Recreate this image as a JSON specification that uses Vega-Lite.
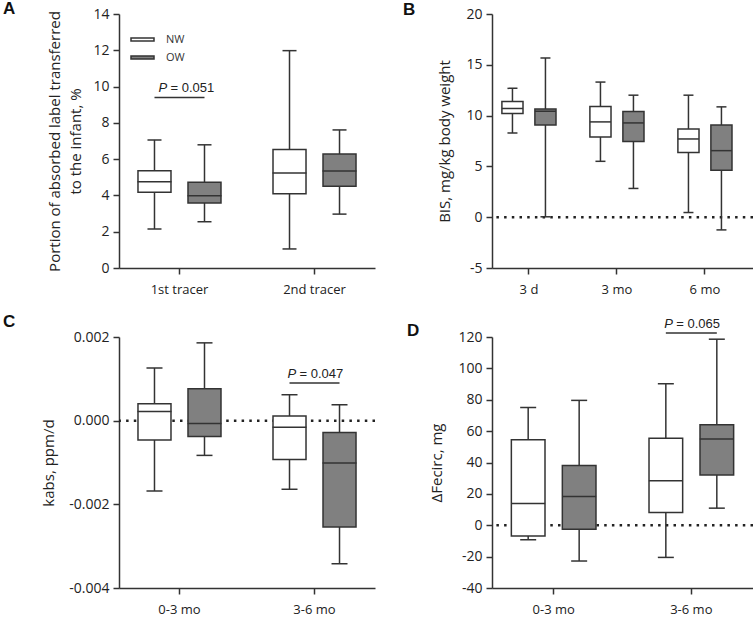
{
  "$schema": "https://vega.github.io/schema/vega-lite/v6.json",
  "background": "white",
  "padding": {"left": 3, "top": 0, "right": 0, "bottom": 0},
  "columns": 2,
  "bounds": "flush",
  "spacing": {"row": 69, "column": 117},
  "resolve": {
    "scale": {"x": "independent", "y": "independent", "xOffset": "independent", "fill": "independent"},
    "legend": {"fill": "independent"}
  },
  "concat": [
    {
      "width": 256, "height": 254,
      "title": {"text": "A", "dx": -116, "dy": 15},
      "data": {"values": [
        {"cat": "1st tracer", "grp": "NW", "lo": 2.15, "q1": 4.18, "med": 4.75, "q3": 5.36, "hi": 7.06},
        {"cat": "1st tracer", "grp": "OW", "lo": 2.55, "q1": 3.58, "med": 3.98, "q3": 4.72, "hi": 6.79},
        {"cat": "2nd tracer", "grp": "NW", "lo": 1.05, "q1": 4.09, "med": 5.23, "q3": 6.53, "hi": 11.98},
        {"cat": "2nd tracer", "grp": "OW", "lo": 2.97, "q1": 4.51, "med": 5.34, "q3": 6.28, "hi": 7.61}
      ]},
      "encoding": {
        "x": {"field": "cat", "type": "nominal", "sort": null, "title": null,
              "scale": {"type": "band", "domain": ["1st tracer", "2nd tracer"], "paddingInner": 0.2, "paddingOuter": 0.048},
              "axis": {"labelAngle": 0}},
        "xOffset": {"field": "grp", "type": "nominal", "scale": {"domain": ["NW", "OW"], "paddingInner": 0.34, "paddingOuter": 0.25}}
      },
      "layer": [
        {"mark": {"type": "rule", "color": "#333", "strokeWidth": 1.5},
         "encoding": {"y": {"field": "lo", "type": "quantitative", "scale": {"domain": [0, 14], "nice": false}, "axis": {"values": [0, 2, 4, 6, 8, 10, 12, 14], "titleLineHeight": 21}, "title": ["Portion of absorbed label transferred", "to the infant, %"]},
                      "y2": {"field": "hi"}}},
        {"mark": {"type": "bar", "stroke": "#333", "strokeWidth": 1.5},
         "encoding": {"y": {"field": "q1", "type": "quantitative", "scale": {"domain": [0, 14], "nice": false}, "axis": {"values": [0, 2, 4, 6, 8, 10, 12, 14], "titleLineHeight": 21}, "title": ["Portion of absorbed label transferred", "to the infant, %"]},
                      "y2": {"field": "q3"},
                      "fill": {"field": "grp", "type": "nominal", "scale": {"domain": ["NW", "OW"], "range": ["#ffffff", "#808080"]},
                               "legend": {"orient": "none", "legendX": 11, "legendY": 13, "title": null,
                                          "symbolType": "M-1,-0.13H1V0.13H-1Z", "symbolSize": 529,
                                          "symbolStrokeColor": "#333", "symbolStrokeWidth": 1.5,
                                          "labelFontSize": 11, "labelFont": "Open Sans", "labelColor": "#333", "rowPadding": -14, "labelOffset": 11}}}},
        {"mark": {"type": "tick", "size": 34, "thickness": 1.5, "color": "#333", "opacity": 1},
         "encoding": {"y": {"field": "med", "type": "quantitative", "scale": {"domain": [0, 14], "nice": false}, "axis": {"values": [0, 2, 4, 6, 8, 10, 12, 14], "titleLineHeight": 21}, "title": ["Portion of absorbed label transferred", "to the infant, %"]}}},
        {"mark": {"type": "tick", "size": 14, "thickness": 1.5, "color": "#333", "opacity": 1},
         "encoding": {"y": {"field": "lo", "type": "quantitative", "scale": {"domain": [0, 14], "nice": false}, "axis": {"values": [0, 2, 4, 6, 8, 10, 12, 14], "titleLineHeight": 21}, "title": ["Portion of absorbed label transferred", "to the infant, %"]}}},
        {"mark": {"type": "tick", "size": 14, "thickness": 1.5, "color": "#333", "opacity": 1},
         "encoding": {"y": {"field": "hi", "type": "quantitative", "scale": {"domain": [0, 14], "nice": false}, "axis": {"values": [0, 2, 4, 6, 8, 10, 12, 14], "titleLineHeight": 21}, "title": ["Portion of absorbed label transferred", "to the infant, %"]}}},
        {"data": {"values": [{"cat": "1st tracer", "grp": "NW", "v": 9.4}, {"cat": "1st tracer", "grp": "OW", "v": 9.4}]},
         "mark": {"type": "line", "color": "#333", "strokeWidth": 1.5},
         "encoding": {"y": {"field": "v", "type": "quantitative", "scale": {"domain": [0, 14], "nice": false}, "axis": {"values": [0, 2, 4, 6, 8, 10, 12, 14], "titleLineHeight": 21}, "title": ["Portion of absorbed label transferred", "to the infant, %"]}}},
        {"data": {"values": [{"cat": "1st tracer", "v": 9.4, "t": "P"}]},
         "mark": {"type": "text", "align": "left", "baseline": "alphabetic", "dx": -21, "dy": -5, "fontStyle": "italic", "font": "Liberation Sans", "fontSize": 13, "color": "#222"},
         "encoding": {"xOffset": null, "y": {"field": "v", "type": "quantitative", "scale": {"domain": [0, 14], "nice": false}, "axis": {"values": [0, 2, 4, 6, 8, 10, 12, 14], "titleLineHeight": 21}, "title": ["Portion of absorbed label transferred", "to the infant, %"]}, "text": {"field": "t"}}},
        {"data": {"values": [{"cat": "1st tracer", "v": 9.4, "t": "= 0.051"}]},
         "mark": {"type": "text", "align": "left", "baseline": "alphabetic", "dx": -9, "dy": -5, "font": "Liberation Sans", "fontSize": 13, "color": "#222"},
         "encoding": {"xOffset": null, "y": {"field": "v", "type": "quantitative", "scale": {"domain": [0, 14], "nice": false}, "axis": {"values": [0, 2, 4, 6, 8, 10, 12, 14], "titleLineHeight": 21}, "title": ["Portion of absorbed label transferred", "to the infant, %"]}, "text": {"field": "t"}}}
      ]
    },
    {
      "width": 261, "height": 254,
      "title": {"text": "B", "dx": -89, "dy": 16},
      "data": {"values": [
        {"cat": "3 d", "grp": "NW", "lo": 8.29, "q1": 10.2, "med": 10.7, "q3": 11.39, "hi": 12.68},
        {"cat": "3 d", "grp": "OW", "lo": 0.04, "q1": 9.08, "med": 10.43, "q3": 10.66, "hi": 15.67},
        {"cat": "3 mo", "grp": "NW", "lo": 5.5, "q1": 7.9, "med": 9.38, "q3": 10.9, "hi": 13.3},
        {"cat": "3 mo", "grp": "OW", "lo": 2.83, "q1": 7.44, "med": 9.28, "q3": 10.4, "hi": 12.01},
        {"cat": "6 mo", "grp": "NW", "lo": 0.46, "q1": 6.36, "med": 7.7, "q3": 8.69, "hi": 12.01},
        {"cat": "6 mo", "grp": "OW", "lo": -1.25, "q1": 4.61, "med": 6.55, "q3": 9.08, "hi": 10.86}
      ]},
      "encoding": {
        "x": {"field": "cat", "type": "nominal", "sort": null, "title": null,
              "scale": {"type": "band", "domain": ["3 d", "3 mo", "6 mo"], "paddingInner": 0.2, "paddingOuter": 0.083, "align": 0.12},
              "axis": {"labelAngle": 0}},
        "xOffset": {"field": "grp", "type": "nominal", "scale": {"domain": ["NW", "OW"], "paddingInner": 0.36, "paddingOuter": 0.247}}
      },
      "layer": [
        {"data": {"values": [{}]},
         "mark": {"type": "rule", "color": "#222", "strokeWidth": 2.5, "strokeDash": [2.5, 5.2]},
         "encoding": {"x": null, "xOffset": null, "y": {"datum": 0, "type": "quantitative", "scale": {"domain": [-5, 20], "nice": false}, "axis": {"values": [-5, 0, 5, 10, 15, 20], "labelExpr": "replace(datum.label, '\u2212', '-')", "titlePadding": 13}, "title": "BIS, mg/kg body weight"}}},
        {"mark": {"type": "rule", "color": "#333", "strokeWidth": 1.5},
         "encoding": {"y": {"field": "lo", "type": "quantitative", "scale": {"domain": [-5, 20], "nice": false}, "axis": {"values": [-5, 0, 5, 10, 15, 20], "labelExpr": "replace(datum.label, '\u2212', '-')", "titlePadding": 13}, "title": "BIS, mg/kg body weight"}, "y2": {"field": "hi"}}},
        {"mark": {"type": "bar", "stroke": "#333", "strokeWidth": 1.5},
         "encoding": {"y": {"field": "q1", "type": "quantitative", "scale": {"domain": [-5, 20], "nice": false}, "axis": {"values": [-5, 0, 5, 10, 15, 20], "labelExpr": "replace(datum.label, '\u2212', '-')", "titlePadding": 13}, "title": "BIS, mg/kg body weight"}, "y2": {"field": "q3"},
                      "fill": {"field": "grp", "type": "nominal", "scale": {"domain": ["NW", "OW"], "range": ["#ffffff", "#808080"]}, "legend": null}}},
        {"mark": {"type": "tick", "size": 21, "thickness": 1.5, "color": "#333", "opacity": 1},
         "encoding": {"y": {"field": "med", "type": "quantitative", "scale": {"domain": [-5, 20], "nice": false}, "axis": {"values": [-5, 0, 5, 10, 15, 20], "labelExpr": "replace(datum.label, '\u2212', '-')", "titlePadding": 13}, "title": "BIS, mg/kg body weight"}}},
        {"mark": {"type": "tick", "size": 10, "thickness": 1.5, "color": "#333", "opacity": 1},
         "encoding": {"y": {"field": "lo", "type": "quantitative", "scale": {"domain": [-5, 20], "nice": false}, "axis": {"values": [-5, 0, 5, 10, 15, 20], "labelExpr": "replace(datum.label, '\u2212', '-')", "titlePadding": 13}, "title": "BIS, mg/kg body weight"}}},
        {"mark": {"type": "tick", "size": 10, "thickness": 1.5, "color": "#333", "opacity": 1},
         "encoding": {"y": {"field": "hi", "type": "quantitative", "scale": {"domain": [-5, 20], "nice": false}, "axis": {"values": [-5, 0, 5, 10, 15, 20], "labelExpr": "replace(datum.label, '\u2212', '-')", "titlePadding": 13}, "title": "BIS, mg/kg body weight"}}}
      ]
    },
    {
      "width": 256, "height": 251,
      "title": {"text": "C", "dx": -116, "dy": 5},
      "data": {"values": [
        {"cat": "0-3 mo", "grp": "NW", "lo": -0.00168, "q1": -0.00046, "med": 0.00022, "q3": 0.000403, "hi": 0.00126},
        {"cat": "0-3 mo", "grp": "OW", "lo": -0.00083, "q1": -0.00038, "med": -0.00007, "q3": 0.00076, "hi": 0.00186},
        {"cat": "3-6 mo", "grp": "NW", "lo": -0.00164, "q1": -0.00093, "med": -0.00016, "q3": 0.00011, "hi": 0.00062},
        {"cat": "3-6 mo", "grp": "OW", "lo": -0.00342, "q1": -0.00254, "med": -0.00101, "q3": -0.00028, "hi": 0.00038}
      ]},
      "encoding": {
        "x": {"field": "cat", "type": "nominal", "sort": null, "title": null,
              "scale": {"type": "band", "domain": ["0-3 mo", "3-6 mo"], "paddingInner": 0.2, "paddingOuter": 0.048},
              "axis": {"labelAngle": 0}},
        "xOffset": {"field": "grp", "type": "nominal", "scale": {"domain": ["NW", "OW"], "paddingInner": 0.34, "paddingOuter": 0.25}}
      },
      "layer": [
        {"data": {"values": [{}]},
         "mark": {"type": "rule", "color": "#222", "strokeWidth": 2.5, "strokeDash": [2.5, 5.2]},
         "encoding": {"x": null, "xOffset": null, "y": {"datum": 0, "type": "quantitative", "scale": {"domain": [-0.004, 0.002], "nice": false}, "axis": {"values": [-0.004, -0.002, 0, 0.002], "format": ".3f", "labelExpr": "replace(datum.label, '\u2212', '-')", "titlePadding": 12}, "title": "kabs, ppm/d"}}},
        {"mark": {"type": "rule", "color": "#333", "strokeWidth": 1.5},
         "encoding": {"y": {"field": "lo", "type": "quantitative", "scale": {"domain": [-0.004, 0.002], "nice": false}, "axis": {"values": [-0.004, -0.002, 0, 0.002], "format": ".3f", "labelExpr": "replace(datum.label, '\u2212', '-')", "titlePadding": 12}, "title": "kabs, ppm/d"}, "y2": {"field": "hi"}}},
        {"mark": {"type": "bar", "stroke": "#333", "strokeWidth": 1.5},
         "encoding": {"y": {"field": "q1", "type": "quantitative", "scale": {"domain": [-0.004, 0.002], "nice": false}, "axis": {"values": [-0.004, -0.002, 0, 0.002], "format": ".3f", "labelExpr": "replace(datum.label, '\u2212', '-')", "titlePadding": 12}, "title": "kabs, ppm/d"}, "y2": {"field": "q3"},
                      "fill": {"field": "grp", "type": "nominal", "scale": {"domain": ["NW", "OW"], "range": ["#ffffff", "#808080"]}, "legend": null}}},
        {"mark": {"type": "tick", "size": 34, "thickness": 1.5, "color": "#333", "opacity": 1},
         "encoding": {"y": {"field": "med", "type": "quantitative", "scale": {"domain": [-0.004, 0.002], "nice": false}, "axis": {"values": [-0.004, -0.002, 0, 0.002], "format": ".3f", "labelExpr": "replace(datum.label, '\u2212', '-')", "titlePadding": 12}, "title": "kabs, ppm/d"}}},
        {"mark": {"type": "tick", "size": 16, "thickness": 1.5, "color": "#333", "opacity": 1},
         "encoding": {"y": {"field": "lo", "type": "quantitative", "scale": {"domain": [-0.004, 0.002], "nice": false}, "axis": {"values": [-0.004, -0.002, 0, 0.002], "format": ".3f", "labelExpr": "replace(datum.label, '\u2212', '-')", "titlePadding": 12}, "title": "kabs, ppm/d"}}},
        {"mark": {"type": "tick", "size": 16, "thickness": 1.5, "color": "#333", "opacity": 1},
         "encoding": {"y": {"field": "hi", "type": "quantitative", "scale": {"domain": [-0.004, 0.002], "nice": false}, "axis": {"values": [-0.004, -0.002, 0, 0.002], "format": ".3f", "labelExpr": "replace(datum.label, '\u2212', '-')", "titlePadding": 12}, "title": "kabs, ppm/d"}}},
        {"data": {"values": [{"cat": "3-6 mo", "grp": "NW", "v": 0.0009}, {"cat": "3-6 mo", "grp": "OW", "v": 0.0009}]},
         "mark": {"type": "line", "color": "#333", "strokeWidth": 1.5},
         "encoding": {"y": {"field": "v", "type": "quantitative", "scale": {"domain": [-0.004, 0.002], "nice": false}, "axis": {"values": [-0.004, -0.002, 0, 0.002], "format": ".3f", "labelExpr": "replace(datum.label, '\u2212', '-')", "titlePadding": 12}, "title": "kabs, ppm/d"}}},
        {"data": {"values": [{"cat": "3-6 mo", "v": 0.0009, "t": "P"}]},
         "mark": {"type": "text", "align": "left", "baseline": "alphabetic", "dx": -27, "dy": -5, "fontStyle": "italic", "font": "Liberation Sans", "fontSize": 13, "color": "#222"},
         "encoding": {"xOffset": null, "y": {"field": "v", "type": "quantitative", "scale": {"domain": [-0.004, 0.002], "nice": false}, "axis": {"values": [-0.004, -0.002, 0, 0.002], "format": ".3f", "labelExpr": "replace(datum.label, '\u2212', '-')", "titlePadding": 12}, "title": "kabs, ppm/d"}, "text": {"field": "t"}}},
        {"data": {"values": [{"cat": "3-6 mo", "v": 0.0009, "t": "= 0.047"}]},
         "mark": {"type": "text", "align": "left", "baseline": "alphabetic", "dx": -15, "dy": -5, "font": "Liberation Sans", "fontSize": 13, "color": "#222"},
         "encoding": {"xOffset": null, "y": {"field": "v", "type": "quantitative", "scale": {"domain": [-0.004, 0.002], "nice": false}, "axis": {"values": [-0.004, -0.002, 0, 0.002], "format": ".3f", "labelExpr": "replace(datum.label, '\u2212', '-')", "titlePadding": 12}, "title": "kabs, ppm/d"}, "text": {"field": "t"}}}
      ]
    },
    {
      "width": 261, "height": 251,
      "title": {"text": "D", "dx": -85, "dy": 26},
      "data": {"values": [
        {"cat": "0-3 mo", "grp": "NW", "lo": -9.3, "q1": -6.8, "med": 13.9, "q3": 54.5, "hi": 75.0},
        {"cat": "0-3 mo", "grp": "OW", "lo": -22.8, "q1": -2.6, "med": 18.3, "q3": 38.1, "hi": 79.6},
        {"cat": "3-6 mo", "grp": "NW", "lo": -20.5, "q1": 8.2, "med": 28.4, "q3": 55.4, "hi": 90.2},
        {"cat": "3-6 mo", "grp": "OW", "lo": 10.9, "q1": 32.0, "med": 55.0, "q3": 64.0, "hi": 118.6}
      ]},
      "encoding": {
        "x": {"field": "cat", "type": "nominal", "sort": null, "title": null,
              "scale": {"type": "band", "domain": ["0-3 mo", "3-6 mo"], "paddingInner": 0.2, "paddingOuter": 0.048},
              "axis": {"labelAngle": 0}},
        "xOffset": {"field": "grp", "type": "nominal", "scale": {"domain": ["NW", "OW"], "paddingInner": 0.34, "paddingOuter": 0.25}}
      },
      "layer": [
        {"data": {"values": [{}]},
         "mark": {"type": "rule", "color": "#222", "strokeWidth": 2.5, "strokeDash": [2.5, 5.2]},
         "encoding": {"x": null, "xOffset": null, "y": {"datum": 0, "type": "quantitative", "scale": {"domain": [-40, 120], "nice": false}, "axis": {"values": [-40, -20, 0, 20, 40, 60, 80, 100, 120], "labelExpr": "replace(datum.label, '\u2212', '-')", "titlePadding": 13}, "title": "\u0394Fecirc, mg"}}},
        {"mark": {"type": "rule", "color": "#333", "strokeWidth": 1.5},
         "encoding": {"y": {"field": "lo", "type": "quantitative", "scale": {"domain": [-40, 120], "nice": false}, "axis": {"values": [-40, -20, 0, 20, 40, 60, 80, 100, 120], "labelExpr": "replace(datum.label, '\u2212', '-')", "titlePadding": 13}, "title": "\u0394Fecirc, mg"}, "y2": {"field": "hi"}}},
        {"mark": {"type": "bar", "stroke": "#333", "strokeWidth": 1.5},
         "encoding": {"y": {"field": "q1", "type": "quantitative", "scale": {"domain": [-40, 120], "nice": false}, "axis": {"values": [-40, -20, 0, 20, 40, 60, 80, 100, 120], "labelExpr": "replace(datum.label, '\u2212', '-')", "titlePadding": 13}, "title": "\u0394Fecirc, mg"}, "y2": {"field": "q3"},
                      "fill": {"field": "grp", "type": "nominal", "scale": {"domain": ["NW", "OW"], "range": ["#ffffff", "#808080"]}, "legend": null}}},
        {"mark": {"type": "tick", "size": 34, "thickness": 1.5, "color": "#333", "opacity": 1},
         "encoding": {"y": {"field": "med", "type": "quantitative", "scale": {"domain": [-40, 120], "nice": false}, "axis": {"values": [-40, -20, 0, 20, 40, 60, 80, 100, 120], "labelExpr": "replace(datum.label, '\u2212', '-')", "titlePadding": 13}, "title": "\u0394Fecirc, mg"}}},
        {"mark": {"type": "tick", "size": 16, "thickness": 1.5, "color": "#333", "opacity": 1},
         "encoding": {"y": {"field": "lo", "type": "quantitative", "scale": {"domain": [-40, 120], "nice": false}, "axis": {"values": [-40, -20, 0, 20, 40, 60, 80, 100, 120], "labelExpr": "replace(datum.label, '\u2212', '-')", "titlePadding": 13}, "title": "\u0394Fecirc, mg"}}},
        {"mark": {"type": "tick", "size": 16, "thickness": 1.5, "color": "#333", "opacity": 1},
         "encoding": {"y": {"field": "hi", "type": "quantitative", "scale": {"domain": [-40, 120], "nice": false}, "axis": {"values": [-40, -20, 0, 20, 40, 60, 80, 100, 120], "labelExpr": "replace(datum.label, '\u2212', '-')", "titlePadding": 13}, "title": "\u0394Fecirc, mg"}}},
        {"data": {"values": [{"cat": "3-6 mo", "grp": "NW", "v": 122.5}, {"cat": "3-6 mo", "grp": "OW", "v": 122.5}]},
         "mark": {"type": "line", "color": "#333", "strokeWidth": 1.5},
         "encoding": {"y": {"field": "v", "type": "quantitative", "scale": {"domain": [-40, 120], "nice": false}, "axis": {"values": [-40, -20, 0, 20, 40, 60, 80, 100, 120], "labelExpr": "replace(datum.label, '\u2212', '-')", "titlePadding": 13}, "title": "\u0394Fecirc, mg"}}},
        {"data": {"values": [{"cat": "3-6 mo", "v": 122.5, "t": "P"}]},
         "mark": {"type": "text", "align": "left", "baseline": "alphabetic", "dx": -27, "dy": -5, "fontStyle": "italic", "font": "Liberation Sans", "fontSize": 13, "color": "#222"},
         "encoding": {"xOffset": null, "y": {"field": "v", "type": "quantitative", "scale": {"domain": [-40, 120], "nice": false}, "axis": {"values": [-40, -20, 0, 20, 40, 60, 80, 100, 120], "labelExpr": "replace(datum.label, '\u2212', '-')", "titlePadding": 13}, "title": "\u0394Fecirc, mg"}, "text": {"field": "t"}}},
        {"data": {"values": [{"cat": "3-6 mo", "v": 122.5, "t": "= 0.065"}]},
         "mark": {"type": "text", "align": "left", "baseline": "alphabetic", "dx": -15, "dy": -5, "font": "Liberation Sans", "fontSize": 13, "color": "#222"},
         "encoding": {"xOffset": null, "y": {"field": "v", "type": "quantitative", "scale": {"domain": [-40, 120], "nice": false}, "axis": {"values": [-40, -20, 0, 20, 40, 60, 80, 100, 120], "labelExpr": "replace(datum.label, '\u2212', '-')", "titlePadding": 13}, "title": "\u0394Fecirc, mg"}, "text": {"field": "t"}}}
      ]
    }
  ],
  "config": {
    "view": {"stroke": null},
    "title": {"font": "Liberation Sans", "fontSize": 17, "fontWeight": "bold", "color": "#111", "anchor": "start", "frame": "group", "offset": 0},
    "axis": {"grid": false, "domainColor": "#333", "domainWidth": 1.5, "tickColor": "#333", "tickWidth": 1.5, "tickSize": 6,
             "labelColor": "#222", "titleColor": "#222", "labelFont": "Open Sans", "titleFont": "Open Sans",
             "labelFontSize": 13, "titleFontSize": 15, "titleFontWeight": "normal", "labelPadding": 4},
    "axisY": {"labelFontSize": 14, "titlePadding": 9},
    "axisX": {"labelPadding": 9}
  }
}
